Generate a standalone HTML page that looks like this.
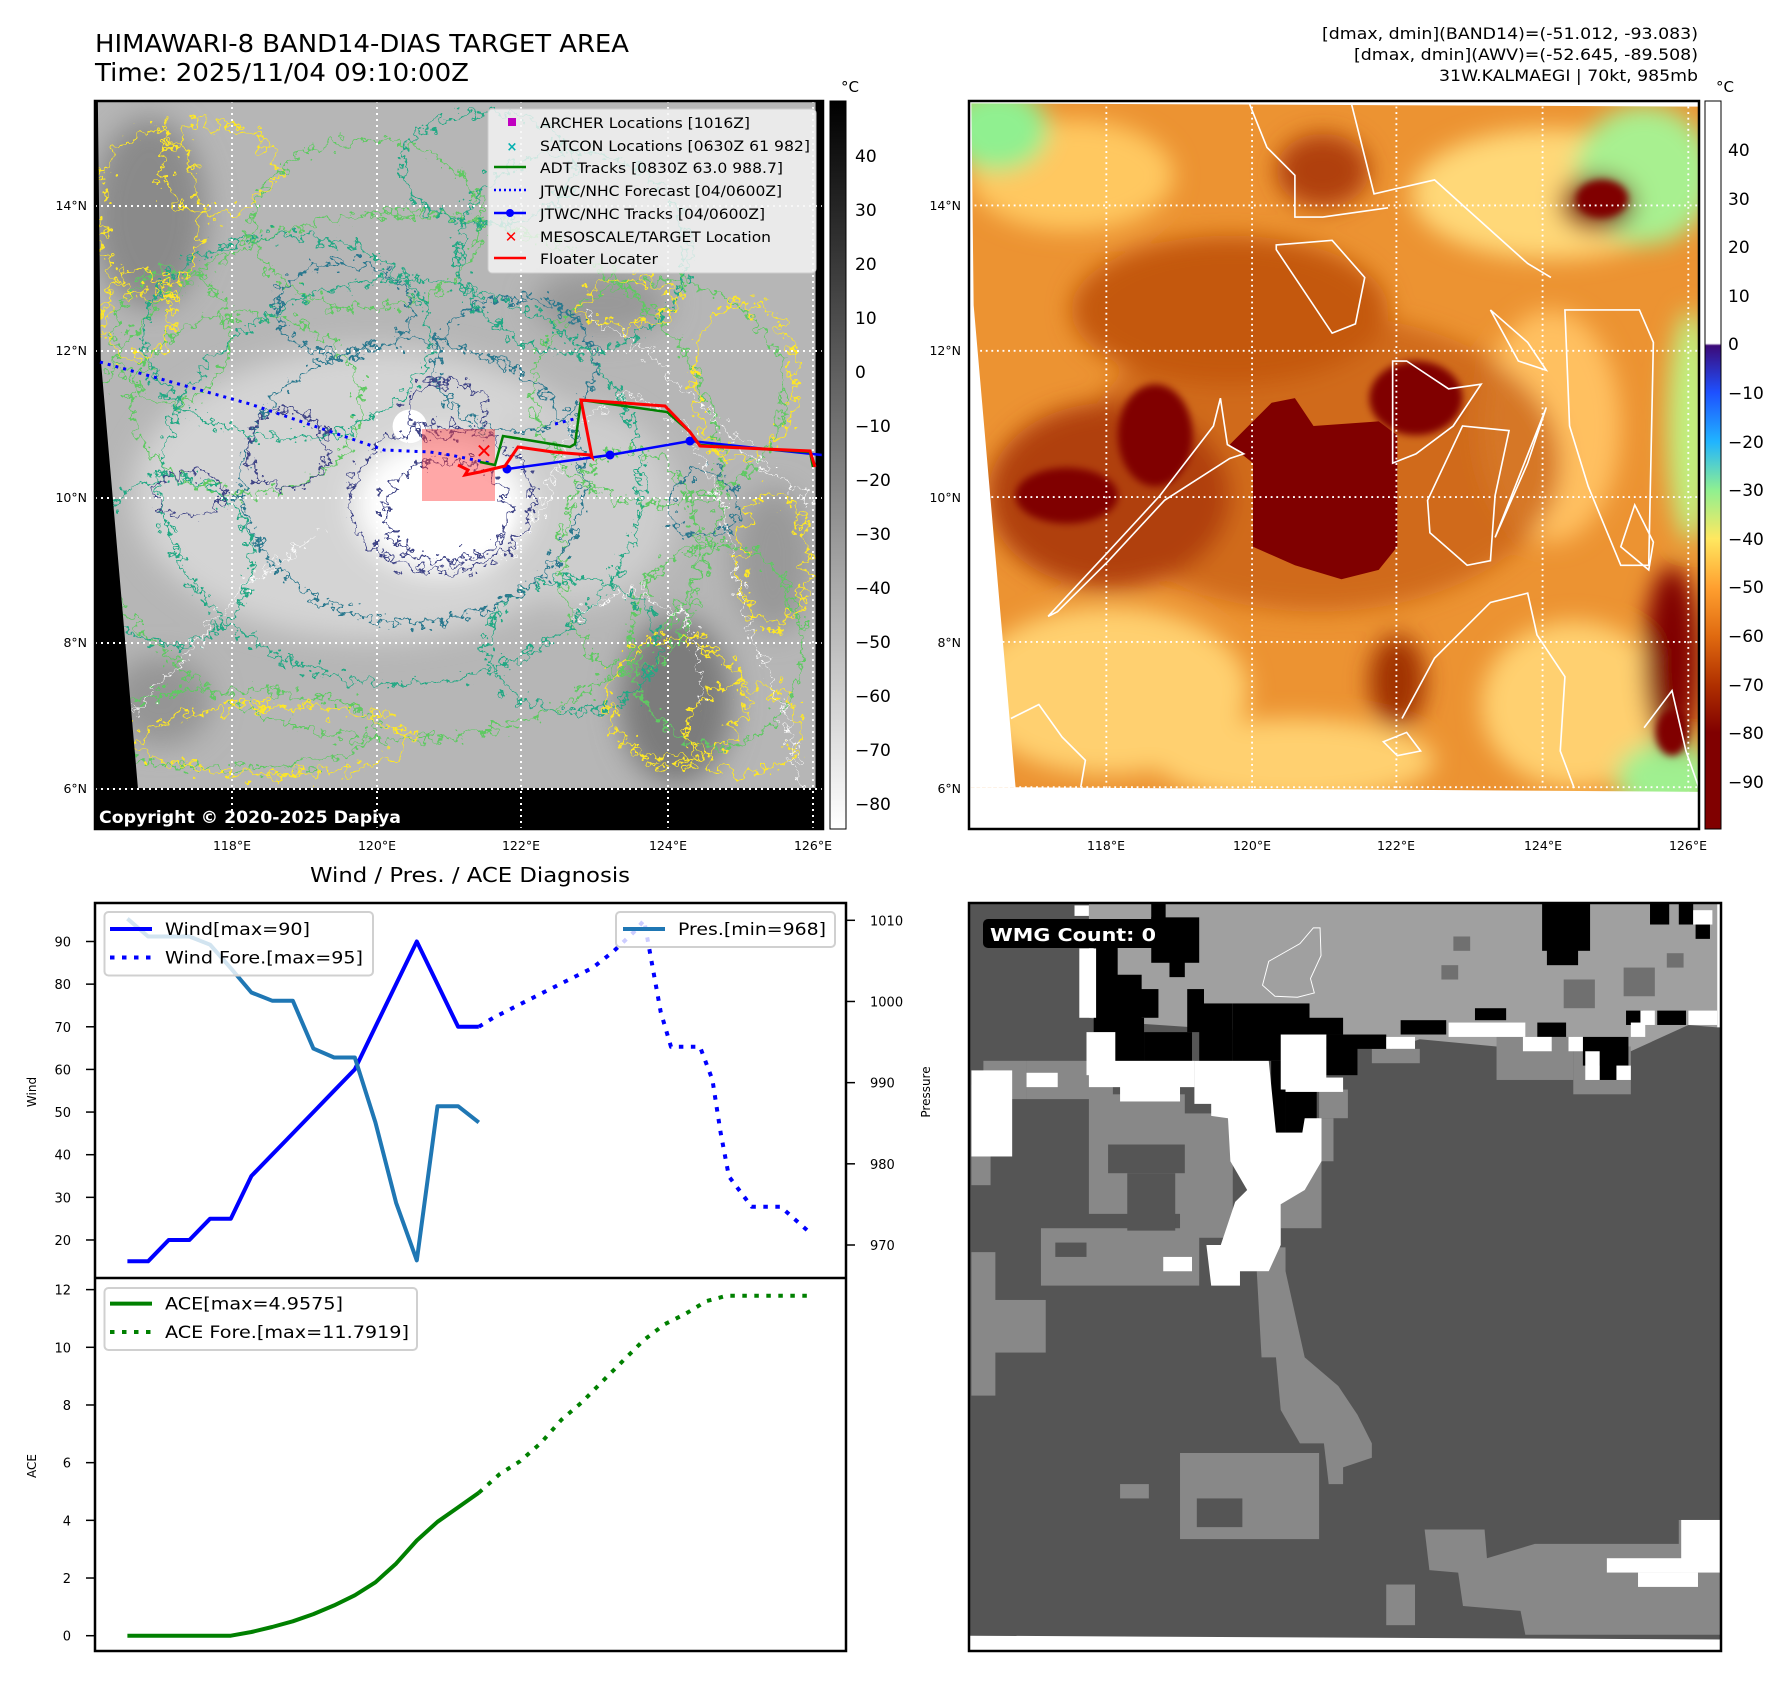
<!DOCTYPE html>
<html><head><meta charset="utf-8">
<style>
html,body{margin:0;padding:0;background:#fff;}
svg text{font-family:"DejaVu Sans","Liberation Sans",sans-serif;}
</style></head>
<body>
<svg id="root" width="1788" height="1690" viewBox="0 0 1788 1690" xmlns="http://www.w3.org/2000/svg">
<defs>
  <filter id="wig" x="-10%" y="-10%" width="120%" height="120%">
    <feTurbulence type="fractalNoise" baseFrequency="0.06" numOctaves="3" seed="3"/>
    <feDisplacementMap in="SourceGraphic" scale="55" xChannelSelector="R" yChannelSelector="G"/>
  </filter>
  <filter id="wig2" x="-10%" y="-10%" width="120%" height="120%">
    <feTurbulence type="fractalNoise" baseFrequency="0.05" numOctaves="3" seed="7"/>
    <feDisplacementMap in="SourceGraphic" scale="70" xChannelSelector="R" yChannelSelector="G"/>
  </filter>
  <filter id="blur" x="-30%" y="-30%" width="160%" height="160%"><feGaussianBlur stdDeviation="25"/></filter>
  <filter id="blur2" x="-30%" y="-30%" width="160%" height="160%"><feGaussianBlur stdDeviation="8"/></filter>
  <linearGradient id="cbGray" x1="0" y1="0" x2="0" y2="1">
    <stop offset="0" stop-color="#000"/><stop offset="1" stop-color="#fff"/>
  </linearGradient>
  <linearGradient id="cbHot" x1="0" y1="0" x2="0" y2="1">
    <stop offset="0" stop-color="#fff"/><stop offset="0.333" stop-color="#fff"/>
    <stop offset="0.336" stop-color="#3c0a78"/><stop offset="0.40" stop-color="#1e50ff"/>
    <stop offset="0.468" stop-color="#20b4ff"/><stop offset="0.535" stop-color="#90f090"/>
    <stop offset="0.601" stop-color="#ffe860"/><stop offset="0.668" stop-color="#ffa030"/>
    <stop offset="0.735" stop-color="#e06a10"/><stop offset="0.802" stop-color="#b03000"/>
    <stop offset="0.868" stop-color="#800000"/><stop offset="1" stop-color="#800000"/>
  </linearGradient>
</defs>

<!-- Titles -->
<text x="95" y="52" font-size="25" textLength="534" lengthAdjust="spacingAndGlyphs">HIMAWARI-8 BAND14-DIAS TARGET AREA</text>
<text x="95" y="81" font-size="25" textLength="374" lengthAdjust="spacingAndGlyphs">Time: 2025/11/04 09:10:00Z</text>
<text x="1698" y="39" font-size="16" text-anchor="end" textLength="376" lengthAdjust="spacingAndGlyphs">[dmax, dmin](BAND14)=(-51.012, -93.083)</text>
<text x="1698" y="60" font-size="16" text-anchor="end" textLength="344" lengthAdjust="spacingAndGlyphs">[dmax, dmin](AWV)=(-52.645, -89.508)</text>
<text x="1698" y="81" font-size="16" text-anchor="end" textLength="259" lengthAdjust="spacingAndGlyphs">31W.KALMAEGI | 70kt, 985mb</text>

<!-- ================= TOP-LEFT MAP ================= -->
<g>
<svg x="95" y="101" width="728" height="728" viewBox="165 180 1272 1298" preserveAspectRatio="none">
  <rect x="165" y="180" width="1272" height="1298" fill="#b6b6b6"/>
  <g filter="url(#blur)">
    <ellipse cx="260" cy="380" rx="100" ry="170" fill="#8a8a8a"/>
    <ellipse cx="280" cy="1250" rx="90" ry="80" fill="#959595"/>
    <ellipse cx="1180" cy="1250" rx="100" ry="150" fill="#7c7c7c"/>
    <ellipse cx="1050" cy="540" rx="120" ry="60" fill="#999"/>
    <ellipse cx="1350" cy="1000" rx="70" ry="130" fill="#999"/>
    <ellipse cx="650" cy="880" rx="420" ry="260" fill="#d4d4d4"/>
    <ellipse cx="1000" cy="900" rx="180" ry="180" fill="#cdcdcd"/>
    <ellipse cx="770" cy="900" rx="150" ry="120" fill="#fff"/>
  </g>
  <ellipse cx="780" cy="920" rx="110" ry="80" fill="#fff" filter="url(#blur2)"/>
  <ellipse cx="715" cy="760" rx="30" ry="30" fill="#fff"/>
  <g fill="none" stroke-width="4" filter="url(#wig)">
    <ellipse cx="700" cy="850" rx="560" ry="470" stroke="#5ec962"/>
    <ellipse cx="430" cy="720" rx="200" ry="160" stroke="#5ec962"/>
    <ellipse cx="1150" cy="700" rx="220" ry="200" stroke="#5ec962"/>
    <ellipse cx="1250" cy="1150" rx="150" ry="180" stroke="#5ec962"/>
    <ellipse cx="400" cy="1300" rx="260" ry="70" stroke="#5ec962"/>
    <ellipse cx="640" cy="400" rx="200" ry="150" stroke="#5ec962"/>
    <ellipse cx="1100" cy="1000" rx="120" ry="200" stroke="#5ec962"/>
    <ellipse cx="300" cy="600" rx="100" ry="120" stroke="#5ec962"/>
    <ellipse cx="700" cy="860" rx="420" ry="360" stroke="#22a884"/>
    <ellipse cx="500" cy="600" rx="250" ry="180" stroke="#22a884"/>
    <ellipse cx="1000" cy="450" rx="200" ry="180" stroke="#22a884"/>
    <ellipse cx="300" cy="1000" rx="140" ry="150" stroke="#22a884"/>
    <ellipse cx="850" cy="300" rx="150" ry="100" stroke="#22a884"/>
    <ellipse cx="1000" cy="1150" rx="150" ry="120" stroke="#22a884"/>
    <ellipse cx="720" cy="860" rx="300" ry="250" stroke="#2a788e"/>
    <ellipse cx="900" cy="650" rx="140" ry="120" stroke="#2a788e"/>
    <ellipse cx="1230" cy="900" rx="60" ry="60" stroke="#2a788e"/>
    <ellipse cx="600" cy="550" rx="120" ry="80" stroke="#2a788e"/>
    <ellipse cx="770" cy="890" rx="160" ry="130" stroke="#414487"/>
    <ellipse cx="780" cy="910" rx="110" ry="90" stroke="#414487"/>
    <ellipse cx="500" cy="800" rx="70" ry="70" stroke="#414487"/>
    <ellipse cx="330" cy="880" rx="60" ry="40" stroke="#414487"/>
    <ellipse cx="780" cy="730" rx="70" ry="50" stroke="#414487"/>
  </g>
  <g fill="none" stroke="#fde725" stroke-width="4" filter="url(#wig2)">
    <ellipse cx="260" cy="380" rx="90" ry="150"/>
    <ellipse cx="380" cy="300" rx="100" ry="80"/>
    <ellipse cx="240" cy="560" rx="60" ry="80"/>
    <ellipse cx="1300" cy="680" rx="90" ry="140"/>
    <ellipse cx="1350" cy="1000" rx="60" ry="120"/>
    <ellipse cx="1180" cy="1250" rx="120" ry="110"/>
    <ellipse cx="480" cy="1320" rx="240" ry="60"/>
    <ellipse cx="1100" cy="540" rx="80" ry="40"/>
    <ellipse cx="1300" cy="1300" rx="100" ry="80"/>
  </g>
  <g fill="none" stroke="#fff" stroke-width="2" filter="url(#wig)">
    <path d="M880 1000 L950 900 L1000 760 L1100 700 L1200 760 L1260 900 L1300 1100 L1380 1300 L1400 1420"/>
    <path d="M1020 560 L1120 620 L1200 700 L1300 800 L1420 900"/>
    <path d="M1000 1100 L1100 1050 L1200 1100 L1230 1250"/>
    <path d="M200 1300 L300 1200 L420 1050 L560 950"/>
  </g>
  <polygon points="165,180 170,180 175,640 240,1405 165,1405" fill="#000"/>
  <rect x="165" y="1405" width="1272" height="73" fill="#000"/>
  <rect x="1424" y="180" width="13" height="1298" fill="#000"/>
</svg>
<g stroke="#fff" stroke-width="2" stroke-dasharray="2 4">
  <line x1="232" y1="101" x2="232" y2="829"/><line x1="377" y1="101" x2="377" y2="829"/>
  <line x1="521" y1="101" x2="521" y2="829"/><line x1="668" y1="101" x2="668" y2="829"/>
  <line x1="813" y1="101" x2="813" y2="829"/>
  <line x1="95" y1="206" x2="823" y2="206"/><line x1="95" y1="351" x2="823" y2="351"/>
  <line x1="95" y1="498" x2="823" y2="498"/><line x1="95" y1="643" x2="823" y2="643"/>
  <line x1="95" y1="789" x2="823" y2="789"/>
</g>
<rect x="422" y="429" width="73" height="72" fill="rgba(255,60,60,0.45)"/>
<polyline points="100,362 250,404 384,450 430,452 450,455 490,463" fill="none" stroke="#0000ff" stroke-width="3" stroke-dasharray="3 5"/>
<polyline points="555,424 578,418" fill="none" stroke="#0000ff" stroke-width="3" stroke-dasharray="3 5"/>
<polyline points="507,469 610,455 690,441 700,442 822,455" fill="none" stroke="#0000ff" stroke-width="2.5"/>
<circle cx="507" cy="469" r="4.5" fill="#0000ff"/>
<circle cx="610" cy="455" r="4.5" fill="#0000ff"/>
<circle cx="690" cy="441" r="4.5" fill="#0000ff"/>
<polyline points="480,462 495,465 503,436 570,447 575,444 581,400 667,412 690,432 700,445 810,452 813,467" fill="none" stroke="#008000" stroke-width="2.5"/>
<polyline points="458,465 468,470 465,475 480,472 505,466 518,447 553,452 590,455 592,457 581,400 665,406 690,432 700,446 810,451 815,467" fill="none" stroke="#ff0000" stroke-width="3"/>
<text x="484" y="458" font-size="20" font-weight="bold" fill="#ff0000" text-anchor="middle">✕</text>
<g>
  <rect x="488" y="109" width="328" height="164" rx="4" fill="rgba(245,245,245,0.82)" stroke="#ccc"/>
  <rect x="508" y="118" width="8" height="8" fill="#c000c0"/>
  <text x="540" y="128" font-size="14.5" textLength="210" lengthAdjust="spacingAndGlyphs">ARCHER Locations [1016Z]</text>
  <text x="512" y="151" font-size="13" fill="#00b0b0" text-anchor="middle" font-weight="bold">×</text>
  <text x="540" y="151" font-size="14.5" textLength="270" lengthAdjust="spacingAndGlyphs">SATCON Locations [0630Z 61 982]</text>
  <line x1="494" y1="167" x2="526" y2="167" stroke="#008000" stroke-width="2.5"/>
  <text x="540" y="173" font-size="14.5" textLength="243" lengthAdjust="spacingAndGlyphs">ADT Tracks [0830Z 63.0 988.7]</text>
  <line x1="494" y1="190" x2="526" y2="190" stroke="#0000ff" stroke-width="2.5" stroke-dasharray="2 3"/>
  <text x="540" y="196" font-size="14.5" textLength="242" lengthAdjust="spacingAndGlyphs">JTWC/NHC Forecast [04/0600Z]</text>
  <line x1="494" y1="213" x2="526" y2="213" stroke="#0000ff" stroke-width="2.5"/><circle cx="510" cy="213" r="4" fill="#0000ff"/>
  <text x="540" y="219" font-size="14.5" textLength="225" lengthAdjust="spacingAndGlyphs">JTWC/NHC Tracks [04/0600Z]</text>
  <text x="511" y="242" font-size="15" fill="#ff0000" text-anchor="middle" font-weight="bold">✕</text>
  <text x="540" y="242" font-size="14.5" textLength="231" lengthAdjust="spacingAndGlyphs">MESOSCALE/TARGET Location</text>
  <line x1="494" y1="258" x2="526" y2="258" stroke="#ff0000" stroke-width="2.5"/>
  <text x="540" y="264" font-size="14.5" textLength="118" lengthAdjust="spacingAndGlyphs">Floater Locater</text>
</g>
<text x="99" y="823" font-size="17" font-weight="bold" fill="#fff" textLength="302" lengthAdjust="spacingAndGlyphs">Copyright © 2020-2025 Dapiya</text>
<rect x="95" y="101" width="728" height="728" fill="none" stroke="#000" stroke-width="2.5"/>
</g>

<g>
  <rect x="830" y="101" width="16" height="728" fill="url(#cbGray)" stroke="#000" stroke-width="1"/>
  <text x="841" y="92" font-size="15">°C</text>
  <g font-size="17">
    <text x="855" y="162">40</text><text x="855" y="216">30</text><text x="855" y="270">20</text>
    <text x="855" y="324">10</text><text x="855" y="378">0</text><text x="855" y="432">−10</text>
    <text x="855" y="486">−20</text><text x="855" y="540">−30</text><text x="855" y="594">−40</text>
    <text x="855" y="648">−50</text><text x="855" y="702">−60</text><text x="855" y="756">−70</text>
    <text x="855" y="810">−80</text>
  </g>
</g>
<g font-size="12.5">
  <text x="87" y="210" text-anchor="end">14°N</text><text x="87" y="355" text-anchor="end">12°N</text>
  <text x="87" y="502" text-anchor="end">10°N</text><text x="87" y="647" text-anchor="end">8°N</text>
  <text x="87" y="793" text-anchor="end">6°N</text>
  <text x="232" y="850" text-anchor="middle">118°E</text><text x="377" y="850" text-anchor="middle">120°E</text>
  <text x="521" y="850" text-anchor="middle">122°E</text><text x="668" y="850" text-anchor="middle">124°E</text>
  <text x="813" y="850" text-anchor="middle">126°E</text>
</g>

<!-- ================= TOP-RIGHT MAP ================= -->
<g>
<svg x="969" y="101" width="730" height="728" viewBox="0 0 1568 1568" preserveAspectRatio="none">
  <rect width="1568" height="1568" fill="#ec9332"/>
  <g filter="url(#blur)">
    <ellipse cx="300" cy="1270" rx="300" ry="180" fill="#ffd070"/>
    <ellipse cx="1250" cy="200" rx="300" ry="140" fill="#ffd878"/>
    <ellipse cx="220" cy="160" rx="220" ry="120" fill="#ffc860"/>
    <ellipse cx="1300" cy="1300" rx="200" ry="180" fill="#ffd070"/>
    <ellipse cx="700" cy="1420" rx="300" ry="90" fill="#ffd070"/>
    <ellipse cx="1250" cy="700" rx="150" ry="250" fill="#ffc060"/>
    <ellipse cx="60" cy="60" rx="110" ry="90" fill="#90f090"/>
    <ellipse cx="1450" cy="160" rx="150" ry="150" fill="#a8f090"/>
    <ellipse cx="1550" cy="700" rx="50" ry="250" fill="#c0f080"/>
    <ellipse cx="1500" cy="1460" rx="110" ry="80" fill="#a0f090"/>
    <ellipse cx="560" cy="450" rx="340" ry="160" fill="#c45810"/>
    <ellipse cx="750" cy="780" rx="520" ry="320" fill="#c45810" opacity="0.7"/>
    <ellipse cx="300" cy="850" rx="260" ry="200" fill="#b04008"/>
    <ellipse cx="760" cy="150" rx="100" ry="80" fill="#b04008"/>
    <ellipse cx="1350" cy="220" rx="80" ry="60" fill="#800000"/>
    <ellipse cx="1510" cy="1200" rx="60" ry="200" fill="#800000"/>
    <ellipse cx="920" cy="1250" rx="60" ry="100" fill="#a03000"/>
  </g>
  <g filter="url(#blur2)">
    <ellipse cx="210" cy="850" rx="110" ry="60" fill="#800000"/>
    <ellipse cx="400" cy="720" rx="80" ry="110" fill="#800000"/>
    <ellipse cx="1360" cy="210" rx="55" ry="40" fill="#800000"/>
    <ellipse cx="1510" cy="1360" rx="35" ry="50" fill="#800000"/>
    <ellipse cx="960" cy="640" rx="100" ry="80" fill="#800000"/>
  </g>
  <polygon points="650,650 700,640 740,700 880,690 920,720 920,960 880,1010 800,1030 700,1000 610,960 610,780 560,740 600,700" fill="#800000"/>
  <g fill="none" stroke="#fff" stroke-width="3.5">
    <path d="M170 1110 L300 970 L410 850 L525 700 L540 640 L555 740 L590 760 L560 770 L420 860 L300 990 L190 1100 Z"/>
    <path d="M660 310 L780 300 L850 380 L830 480 L780 500 L720 410 L660 320 Z"/>
    <path d="M985 860 L1060 700 L1160 710 L1130 850 L1120 990 L1070 1000 L990 930 Z"/>
    <path d="M1130 940 L1240 660 L1200 780 Z"/>
    <path d="M930 1330 L1000 1200 L1120 1080 L1200 1060 L1220 1150 L1280 1240 L1270 1400 L1300 1480"/>
    <path d="M1280 450 L1440 450 L1470 520 L1460 1000 L1400 1000 L1330 830 L1290 700 Z"/>
    <path d="M820 0 L870 200 L1000 170 L1100 260 L1200 350 L1250 380"/>
    <path d="M600 0 L640 100 L700 160 L700 250 L760 250 L830 240 L900 230"/>
    <path d="M910 560 L940 560 L1030 620 L1100 610 L1040 700 L960 760 L910 780 Z"/>
    <path d="M1120 450 L1200 520 L1240 580 L1180 560 Z"/>
    <path d="M1450 1350 L1510 1270 L1540 1400 L1568 1480"/>
    <path d="M1430 870 L1470 950 L1460 1010 L1400 960 Z"/>
    <path d="M90 1330 L150 1300 L200 1370 L250 1420 L240 1478"/>
    <path d="M890 1380 L940 1360 L970 1400 L920 1410 Z"/>
  </g>
  <g stroke="#fff" stroke-width="4" stroke-dasharray="4 8">
    <line x1="295" y1="0" x2="295" y2="1568"/><line x1="608" y1="0" x2="608" y2="1568"/>
    <line x1="918" y1="0" x2="918" y2="1568"/><line x1="1232" y1="0" x2="1232" y2="1568"/>
    <line x1="1545" y1="0" x2="1545" y2="1568"/>
    <line x1="0" y1="225" x2="1568" y2="225"/><line x1="0" y1="538" x2="1568" y2="538"/>
    <line x1="0" y1="853" x2="1568" y2="853"/><line x1="0" y1="1165" x2="1568" y2="1165"/>
    <line x1="0" y1="1478" x2="1568" y2="1478"/>
  </g>
  <polygon points="0,0 5,0 10,440 100,1478 0,1478" fill="#fff"/>
  <polygon points="0,0 1568,0 1568,12 5,5" fill="#fff"/>
  <polygon points="0,1478 100,1478 1568,1488 1568,1568 0,1568" fill="#fff"/>
</svg>
<rect x="969" y="101" width="730" height="728" fill="none" stroke="#000" stroke-width="2.5"/>
</g>
<g>
  <rect x="1705" y="101" width="16" height="728" fill="url(#cbHot)" stroke="#000" stroke-width="1"/>
  <text x="1716" y="92" font-size="15">°C</text>
  <g font-size="17">
    <text x="1728" y="156">40</text><text x="1728" y="205">30</text><text x="1728" y="253">20</text>
    <text x="1728" y="302">10</text><text x="1728" y="350">0</text><text x="1728" y="399">−10</text>
    <text x="1728" y="448">−20</text><text x="1728" y="496">−30</text><text x="1728" y="545">−40</text>
    <text x="1728" y="593">−50</text><text x="1728" y="642">−60</text><text x="1728" y="691">−70</text>
    <text x="1728" y="739">−80</text><text x="1728" y="788">−90</text>
  </g>
</g>
<g font-size="12.5">
  <text x="961" y="210" text-anchor="end">14°N</text><text x="961" y="355" text-anchor="end">12°N</text>
  <text x="961" y="502" text-anchor="end">10°N</text><text x="961" y="647" text-anchor="end">8°N</text>
  <text x="961" y="793" text-anchor="end">6°N</text>
  <text x="1106" y="850" text-anchor="middle">118°E</text><text x="1252" y="850" text-anchor="middle">120°E</text>
  <text x="1396" y="850" text-anchor="middle">122°E</text><text x="1543" y="850" text-anchor="middle">124°E</text>
  <text x="1688" y="850" text-anchor="middle">126°E</text>
</g>

<!-- ================= BOTTOM-RIGHT WMG ================= -->
<g>
<svg x="969" y="903" width="752" height="748" viewBox="0 0 1568 1564" preserveAspectRatio="none">
  <rect width="1568" height="1564" fill="#555"/>
  <polygon points="250,0 1560,0 1560,260 1500,255 1380,310 1250,310 1160,310 1100,300 940,285 880,305 780,280 620,270 470,260 320,250 250,240" fill="#a0a0a0"/>
  <g fill="#888">
    <rect x="250" y="400" width="200" height="250"/><rect x="440" y="440" width="110" height="260"/>
    <rect x="150" y="680" width="330" height="120"/><rect x="120" y="330" width="180" height="80"/>
    <rect x="30" y="330" width="90" height="80"/><rect x="5" y="380" width="40" height="210"/>
    <rect x="5" y="730" width="50" height="300"/><rect x="30" y="830" width="130" height="110"/>
    <polygon points="600,770 660,770 700,950 770,1010 810,1070 840,1130 840,1160 780,1180 780,1215 750,1215 740,1130 690,1130 650,1060 640,950 610,950"/>
    <rect x="440" y="1150" width="290" height="180"/><rect x="315" y="1215" width="60" height="30"/>
    <polygon points="950,1310 1075,1310 1080,1370 1180,1340 1480,1340 1480,1290 1568,1290 1568,1530 1160,1530 1150,1480 1030,1470 1020,1400 960,1395"/>
    <rect x="870" y="1425" width="60" height="85"/>
    <rect x="1100" y="280" width="160" height="90"/><rect x="1260" y="300" width="120" height="100"/>
    <rect x="840" y="305" width="100" height="30"/><rect x="625" y="720" width="35" height="80"/>
    <rect x="730" y="390" width="60" height="60"/><rect x="700" y="450" width="60" height="90"/>
    <rect x="650" y="540" width="85" height="140"/>
  </g>
  <g fill="#555">
    <rect x="290" y="505" width="160" height="60"/><rect x="330" y="565" width="100" height="120"/>
    <rect x="180" y="710" width="65" height="30"/><rect x="475" y="1245" width="95" height="60"/>
  </g>
  <g fill="#707070">
    <rect x="1010" y="70" width="35" height="30"/><rect x="985" y="130" width="35" height="30"/>
    <rect x="1240" y="160" width="65" height="60"/><rect x="1365" y="135" width="65" height="60"/>
    <rect x="1455" y="105" width="35" height="30"/>
  </g>
  <g fill="#000">
    <rect x="380" y="0" width="30" height="40"/><rect x="380" y="30" width="100" height="95"/>
    <rect x="418" y="120" width="32" height="35"/>
    <rect x="260" y="90" width="50" height="180"/><rect x="290" y="150" width="70" height="100"/>
    <rect x="300" y="180" width="95" height="60"/><rect x="305" y="240" width="60" height="120"/>
    <rect x="365" y="270" width="100" height="90"/><rect x="455" y="180" width="35" height="90"/>
    <rect x="480" y="210" width="70" height="120"/><rect x="550" y="210" width="160" height="120"/>
    <rect x="630" y="240" width="150" height="35"/><rect x="630" y="330" width="30" height="150"/>
    <rect x="660" y="390" width="65" height="90"/><rect x="745" y="275" width="125" height="30"/>
    <rect x="745" y="300" width="65" height="60"/>
    <rect x="900" y="245" width="95" height="30"/><rect x="1195" y="0" width="100" height="100"/>
    <rect x="1205" y="90" width="65" height="40"/>
    <rect x="1420" y="0" width="40" height="45"/><rect x="1480" y="0" width="30" height="45"/>
    <rect x="1515" y="45" width="30" height="30"/><rect x="1055" y="220" width="65" height="25"/>
    <rect x="1185" y="250" width="60" height="30"/><rect x="1280" y="280" width="95" height="60"/>
    <rect x="1315" y="330" width="35" height="40"/><rect x="1370" y="225" width="35" height="30"/>
    <rect x="1435" y="225" width="60" height="30"/>
  </g>
  <g fill="#fff">
    <rect x="220" y="5" width="30" height="22"/><rect x="230" y="95" width="35" height="145"/>
    <rect x="245" y="270" width="60" height="90"/><rect x="250" y="330" width="220" height="55"/>
    <rect x="315" y="380" width="125" height="35"/>
    <polygon points="470,330 625,330 640,480 695,480 700,450 735,450 735,540 700,600 650,630 650,715 625,770 565,770 565,800 505,800 495,715 525,715 555,625 580,600 545,540 540,450 505,445 505,420 470,420"/>
    <rect x="650" y="275" width="95" height="115"/><rect x="660" y="365" width="120" height="30"/>
    <rect x="5" y="350" width="85" height="180"/><rect x="120" y="355" width="65" height="30"/>
    <rect x="405" y="740" width="60" height="30"/><rect x="1000" y="250" width="160" height="30"/>
    <rect x="1155" y="280" width="60" height="30"/><rect x="870" y="280" width="60" height="25"/>
    <rect x="1330" y="1370" width="190" height="30"/><rect x="1395" y="1400" width="125" height="30"/>
    <rect x="1485" y="1290" width="83" height="110"/><rect x="1500" y="225" width="60" height="30"/>
    <rect x="1285" y="310" width="30" height="60"/><rect x="1350" y="340" width="30" height="30"/>
    <rect x="1400" y="225" width="30" height="30"/><rect x="1380" y="250" width="30" height="30"/>
    <rect x="1510" y="15" width="40" height="30"/><rect x="1250" y="280" width="30" height="30"/>
    <polygon points="0,1532 1568,1540 1568,1564 0,1564"/>
    <rect x="1560" y="0" width="8" height="260"/>
  </g>
  <path d="M612 172 L625 122 L690 85 L718 52 L732 52 L734 110 L712 158 L720 188 L685 197 L638 195 Z" fill="none" stroke="#fff" stroke-width="2"/>
</svg>
<rect x="983" y="919" width="212" height="29" rx="5" fill="#000"/>
<text x="990" y="941" font-size="18" font-weight="bold" fill="#fff" textLength="166" lengthAdjust="spacingAndGlyphs">WMG Count: 0</text>
<rect x="969" y="903" width="752" height="748" fill="none" stroke="#000" stroke-width="2.5"/>
</g>

<!-- ================= BOTTOM-LEFT CHART ================= -->
<text x="470" y="882" font-size="20" text-anchor="middle" textLength="320" lengthAdjust="spacingAndGlyphs">Wind / Pres. / ACE Diagnosis</text>
<g id="chart"></g>

<script>
const windIdx = [0,1,2,3,4,5,6,7,8,9,10,11,12,13,14,15,16,17];
const windVals = [15,15,20,20,25,25,35,40,45,50,55,60,70,80,90,80,70,70];
const presVals = [1010.2,1008,1008,1008,1007,1004.1,1001.1,1000.1,1000.1,994.2,993.1,993.1,985.1,975.2,968.1,987.1,987.1,985.1];
const windForeIdx = [17,17.7,20.1,22.5,23.5,24.5,25,25.8,26.3,27.7,28.3,28.7,29.1,30.2,31.6,33];
const windForeVals = [70,72.1,78,83.8,87.6,92.2,95,73.5,65.3,65.3,57.6,45.2,34.9,27.8,27.8,21.8];
const aceVals = [0,0,0,0,0,0,0.13,0.3,0.5,0.75,1.05,1.4,1.85,2.5,3.3,3.95,4.45,4.96];
const aceForeIdx = [17,18,19,20,21,22,23,24,25,26,27,28,29,30,31,32,33];
const aceForeVals = [4.96,5.6,6.05,6.68,7.49,8.1,8.83,9.55,10.26,10.8,11.16,11.6,11.79,11.79,11.79,11.79,11.79];
const windTicks = [20,30,40,50,60,70,80,90];
const presTicks = [970,980,990,1000,1010];
const aceTicks = [0,2,4,6,8,10,12];

const NS = "http://www.w3.org/2000/svg";
const chart = document.getElementById('chart');
const L = 95, R = 846, T = 903, MID = 1278, B = 1651;
function xPos(i){ return 127.4 + 20.67 * i; }
function yWind(w){ return 941.5 + (90 - w) * 4.264; }
function yPres(p){ return 920.3 + (1010 - p) * 8.1175; }
function yAce(a){ return 1635.7 - a * 28.84; }

function mk(tag, attrs){
  const e = document.createElementNS(NS, tag);
  for (const k in attrs) e.setAttribute(k, attrs[k]);
  chart.appendChild(e);
  return e;
}
function line(xs, ys, color, width, dash){
  const pts = xs.map((x, i) => x.toFixed(1) + ',' + ys[i].toFixed(1)).join(' ');
  const a = {points: pts, fill: 'none', stroke: color, 'stroke-width': width, 'stroke-linejoin': 'round'};
  if (dash) a['stroke-dasharray'] = dash;
  return mk('polyline', a);
}

let f = mk('rect', {x: L, y: T, width: R - L, height: B - T, fill: 'none', stroke: '#000', 'stroke-width': 2.5});


let m = mk('line', {x1: L, y1: MID, x2: R, y2: MID, stroke: '#000', 'stroke-width': 2.5});



windTicks.forEach(v => {
  const y = yWind(v);
  const t = mk('line', {x1: L - 9, y1: y, x2: L, y2: y, stroke: '#000', 'stroke-width': 1.5});
  
  
  const tx = mk('text', {x: L - 24, y: y + 5, 'font-size': 13, 'text-anchor': 'end'});
  tx.textContent = v;
  
  
});
presTicks.forEach(v => {
  const y = yPres(v);
  const t = mk('line', {x1: R, y1: y, x2: R + 9, y2: y, stroke: '#000', 'stroke-width': 1.5});
  
  
  const tx = mk('text', {x: R + 24, y: y + 5, 'font-size': 13});
  tx.textContent = v;
  
  
});
aceTicks.forEach(v => {
  const y = yAce(v);
  const t = mk('line', {x1: L - 9, y1: y, x2: L, y2: y, stroke: '#000', 'stroke-width': 1.5});
  
  
  const tx = mk('text', {x: L - 24, y: y + 5, 'font-size': 13, 'text-anchor': 'end'});
  tx.textContent = v;
  
  
});

let at = mk('text', {x: 36, y: 1092, 'font-size': 12, 'text-anchor': 'middle', transform: 'rotate(-90 36 1092)'});
at.textContent = 'Wind';


at = mk('text', {x: 930, y: 1092, 'font-size': 12, 'text-anchor': 'middle', transform: 'rotate(-90 930 1092)'});
at.textContent = 'Pressure';


at = mk('text', {x: 36, y: 1466, 'font-size': 12, 'text-anchor': 'middle', transform: 'rotate(-90 36 1466)'});
at.textContent = 'ACE';



let s = line(windIdx.map(xPos), windVals.map(yWind), '#0000ff', 4);


s = line(windForeIdx.map(xPos), windForeVals.map(yWind), '#0000ff', 4, '4.5 7.5');


s = line(windIdx.map(xPos), presVals.map(yPres), '#1f77b4', 4);


s = line(windIdx.map(xPos), aceVals.map(yAce), '#008000', 4);


s = line(aceForeIdx.map(xPos), aceForeVals.map(yAce), '#008000', 4, '4.5 7.5');



function legendBox(x, y, w, h, name){
  const r = mk('rect', {x: x, y: y, width: w, height: h, rx: 4, fill: 'rgba(255,255,255,0.8)', stroke: '#d0d0d0', 'stroke-width': 2});
  
  
}
function legendEntry(x, y, color, dash, label, tl, name){
  const a = {x1: x, y1: y, x2: x + 42, y2: y, stroke: color, 'stroke-width': 4};
  if (dash) a['stroke-dasharray'] = dash;
  const l = mk('line', a);
  
  
  const t = mk('text', {x: x + 55, y: y + 6, 'font-size': 17, textLength: tl, lengthAdjust: 'spacingAndGlyphs'});
  t.textContent = label;
  
  
}
legendBox(104.5, 912, 268.5, 63.5, 'wind-legend');
legendEntry(110, 929, '#0000ff', null, 'Wind[max=90]', 145, 'wind-legend-entry');
legendEntry(110, 957.5, '#0000ff', '4.5 7.5', 'Wind Fore.[max=95]', 198, 'wind-forecast-legend-entry');
legendBox(616, 912, 219, 35, 'pressure-legend');
legendEntry(623, 929, '#1f77b4', null, 'Pres.[min=968]', 148, 'pressure-legend-entry');
legendBox(104.5, 1288, 312.5, 62, 'ace-legend');
legendEntry(110, 1303.6, '#008000', null, 'ACE[max=4.9575]', 178, 'ace-legend-entry');
legendEntry(110, 1332, '#008000', '4.5 7.5', 'ACE Fore.[max=11.7919]', 244, 'ace-forecast-legend-entry');
</script>
</svg>
</body></html>
